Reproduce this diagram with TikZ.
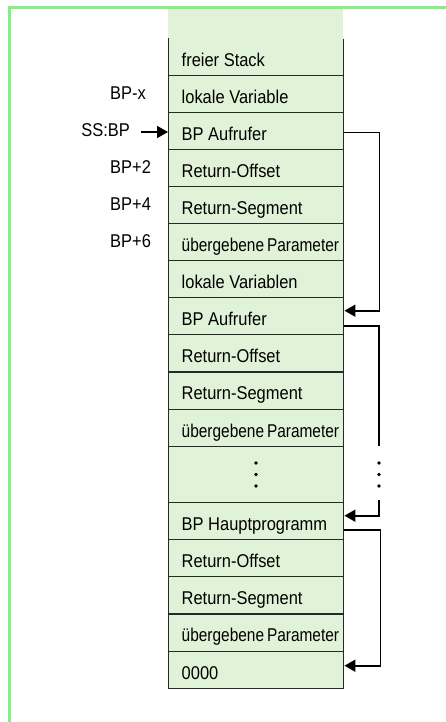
\documentclass[tikz,border=0pt]{standalone}
\usepackage{fontspec}
\setmainfont[FakeStretch=0.89]{Liberation Sans}
\newfontfamily\narrowfont[FakeStretch=0.835]{Liberation Sans}
\usetikzlibrary{arrows.meta}
\definecolor{framegreen}{RGB}{128,242,128}
\definecolor{cellfill}{RGB}{224,243,216}
\definecolor{celldraw}{RGB}{40,40,40}
\tikzset{
  cell/.style={draw=celldraw, fill=cellfill, line width=1.4pt, anchor=north west,
    minimum width=175pt, minimum height=37pt, inner xsep=13pt, inner ysep=0pt,
    text height=20pt, text depth=2pt,
    execute at begin node={\hbox to 149pt\bgroup}, execute at end node={\hfil\egroup},
    font=\fontsize{18.5}{21}\selectfont},
  narrowcell/.style={cell, font=\fontsize{18.5}{21}\narrowfont},
  lbl/.style={inner sep=0pt, font=\fontsize{18.5}{21}\selectfont},
  conn/.style={draw=black, line width=1.6pt},
  tip/.style={-{Triangle[length=11pt,width=12pt]}},
  dot/.style={fill=black}
}
\begin{document}
\begin{tikzpicture}[x=1pt,y=-1pt]
\useasboundingbox (0,0) rectangle (446,722);
% frame
\draw[framegreen, line width=3pt] (9.5,722) -- (9.5,8) -- (446,8);
% top free fill
\fill[cellfill] (168,9.5) rectangle (343,38);
% cells
\node[cell] (r1) at (168,38) {freier Stack};
\node[cell] (r2) at (168,75) {lokale Variable};
\node[cell] (r3) at (168,112) {BP Aufrufer};
\node[cell] (r4) at (168,149) {Return-Offset};
\node[cell] (r5) at (168,186) {Return-Segment};
\node[narrowcell] (r6) at (168,223) {übergebene Parameter};
\node[cell] (r7) at (168,260) {lokale Variablen};
\node[cell] (r8) at (168,297) {BP Aufrufer};
\node[cell] (r9) at (168,334) {Return-Offset};
\node[cell] (r10) at (168,371.5) {Return-Segment};
\node[narrowcell] (r11) at (168,409) {übergebene Parameter};
\node[cell, minimum height=56pt] (r12) at (168,446) {};
\node[cell] (r13) at (168,502) {BP Hauptprogramm};
\node[cell] (r14) at (168,539) {Return-Offset};
\node[cell] (r15) at (168,576) {Return-Segment};
\node[narrowcell] (r16) at (168,613.5) {übergebene Parameter};
\node[cell] (r17) at (168,651) {0000};
% top open part: cover top border of first cell
\draw[cellfill, line width=1.6pt] ([xshift=0.8pt]r1.north west) -- ([xshift=-0.8pt]r1.north east);
% dots in column
\fill[dot] (256,463) circle (1.8);
\fill[dot] (256,474.5) circle (1.8);
\fill[dot] (256,486) circle (1.8);
% labels
\node[lbl, anchor=west] (lx) at (110,93.5) {BP-x};
\node[lbl, anchor=east] (ss) at (130,130.5) {SS:BP};
\node[lbl, anchor=west] (l2) at (110,167.5) {BP+2};
\node[lbl, anchor=west] (l4) at (110,204.5) {BP+4};
\node[lbl, anchor=west] (l6) at (110,241.5) {BP+6};
\draw[conn, tip, shorten <=11pt] ([yshift=-1.5pt]ss.east) -- ([yshift=-1.5pt]ss.east -| r3.west);
% connectors
\draw[conn, tip] ([yshift=-1.5pt]r3.east) -- ++(35,0) |- ([yshift=5.5pt]r8.east);
\coordinate (g1) at (379,446);
\coordinate (g2) at (379,500);
\draw[conn] ([yshift=-9.5pt]r8.east) -| (g1);
\fill[dot] (379,463) circle (1.8);
\fill[dot] (379,474.5) circle (1.8);
\fill[dot] (379,486) circle (1.8);
\draw[conn, tip] (g2) |- ([yshift=5.5pt]r13.east);
\draw[conn, tip] ([yshift=-8.5pt]r13.east) -- ++(36,0) |- ([yshift=4.5pt]r17.east);
\end{tikzpicture}
\end{document}
